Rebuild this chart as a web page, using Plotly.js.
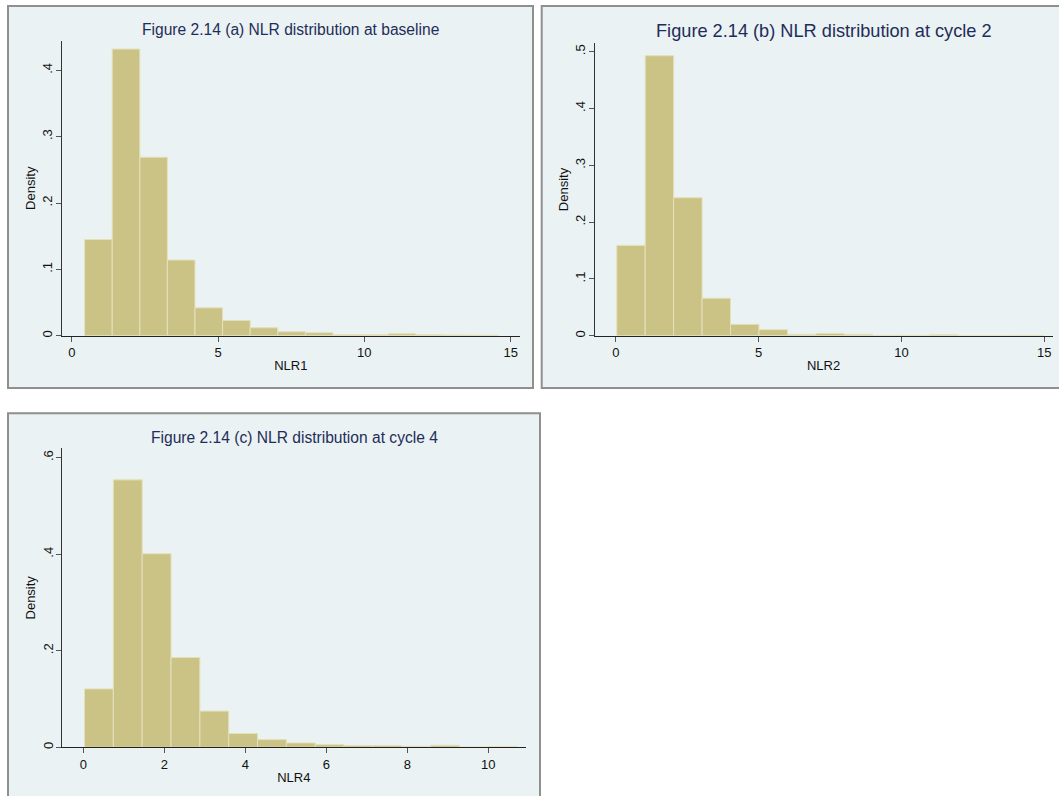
<!DOCTYPE html>
<html>
<head>
<meta charset="utf-8">
<script src="https://cdn.plot.ly/plotly-3.0.1.min.js"></script>
<style>
  html, body { margin: 0; padding: 0; background: #ffffff; }
  #chart { width: 1059px; height: 796px; }
</style>
</head>
<body>
<div id="chart"></div>
<script>
// ---------------- data ----------------
const titleA = "Figure 2.14 (a) NLR distribution at baseline";
const titleB = "Figure 2.14 (b) NLR distribution at cycle 2";
const titleC = "Figure 2.14 (c) NLR distribution at cycle 4";

// histogram bins: first bin start and bin width, plus density per bin
const nlr1BinStart = 0.44;
const nlr1BinWidth = 0.943;
const nlr1Density = [0.145, 0.432, 0.269, 0.114, 0.042, 0.023, 0.012, 0.006, 0.0045, 0.0015, 0.0015, 0.003, 0.0015, 0.001, 0.0007];

const nlr2BinStart = 0.03;
const nlr2BinWidth = 0.996;
const nlr2Density = [0.159, 0.493, 0.243, 0.066, 0.020, 0.0106, 0.0023, 0.004, 0.0023, 0.0005, 0.0005, 0.0015, 0, 0, 0.0005];

const nlr4BinStart = 0.03;
const nlr4BinWidth = 0.712;
const nlr4Density = [0.121, 0.554, 0.401, 0.186, 0.075, 0.0285, 0.016, 0.009, 0.0056, 0.0035, 0.0035, 0.002, 0.0042, 0.0005, 0.0014];

const xTicksAB = [0, 5, 10, 15];
const xTicksC = [0, 2, 4, 6, 8, 10];
const yTicksA = [0, 0.1, 0.2, 0.3, 0.4];
const yTicksB = [0, 0.1, 0.2, 0.3, 0.4, 0.5];
const yTicksC = [0, 0.2, 0.4, 0.6];
const yLabelsA = ["0", ".1", ".2", ".3", ".4"];
const yLabelsB = ["0", ".1", ".2", ".3", ".4", ".5"];
const yLabelsC = ["0", ".2", ".4", ".6"];

// ---------------- styling / layout ----------------
const W = 1059, H = 796;
const FONT = "Liberation Sans, Arial, Helvetica, sans-serif";
const barFill = "#cbc386";
const barEdge = "#e4e0bc";
const panelFill = "#eaf2f3";
const panelBorder = "#8f8f8f";
const gridCol = "#eaf2f3";
const titleCol = "#1f2d5a";
const TICK_SIZE = 13;

function px2x(a, b) { return [a / W, b / W]; }
function px2y(top, bottom) { return [1 - bottom / H, 1 - top / H]; }

function binCenters(start, width, n) {
  const c = [];
  for (let i = 0; i < n; i++) c.push(start + width * (i + 0.5));
  return c;
}

function barTrace(start, width, dens, xa, ya) {
  return {
    type: "bar",
    x: binCenters(start, width, dens.length),
    y: dens,
    width: width,
    xaxis: xa, yaxis: ya,
    marker: { color: barFill, line: { color: barEdge, width: 1 } },
    showlegend: false,
    hoverinfo: "x+y"
  };
}

function xAxis(domain, range, ticks, title, anchor) {
  return {
    domain: domain, range: range, anchor: anchor,
    tickmode: "array", tickvals: ticks, ticktext: ticks.map(String),
    ticks: "outside", ticklen: 5, tickwidth: 1, tickcolor: "#555",
    showline: true, linecolor: "#222", linewidth: 1,
    showgrid: false, zeroline: false,
    tickfont: { family: FONT, size: TICK_SIZE, color: "#111" },
    title: { text: title, font: { family: FONT, size: TICK_SIZE, color: "#111" }, standoff: 1 },
    fixedrange: true
  };
}

function yAxis(domain, range, ticks, labels, anchor) {
  return {
    domain: domain, range: range, anchor: anchor,
    tickmode: "array", tickvals: ticks, ticktext: labels, tickangle: -90,
    ticks: "outside", ticklen: 5, tickwidth: 1, tickcolor: "#555",
    ticklabelstandoff: -2,
    showline: true, linecolor: "#333", linewidth: 1,
    showgrid: true, gridcolor: gridCol, gridwidth: 1, zeroline: false,
    tickfont: { family: FONT, size: TICK_SIZE, color: "#111" },
    title: { text: "Density", font: { family: FONT, size: TICK_SIZE, color: "#111" }, standoff: 1 },
    fixedrange: true
  };
}

const data = [
  barTrace(nlr1BinStart, nlr1BinWidth, nlr1Density, "x", "y"),
  barTrace(nlr2BinStart, nlr2BinWidth, nlr2Density, "x2", "y2"),
  barTrace(nlr4BinStart, nlr4BinWidth, nlr4Density, "x3", "y3")
];

function panel(x0, y0, x1, y1) {
  return {
    type: "rect", xref: "paper", yref: "paper", layer: "below",
    x0: x0 / W, x1: x1 / W, y0: 1 - y1 / H, y1: 1 - y0 / H,
    fillcolor: panelFill, line: { color: panelBorder, width: 2 }
  };
}

function titleAnn(text, cx, cy, size) {
  return {
    text: text, xref: "paper", yref: "paper", x: cx / W, y: 1 - cy / H,
    xanchor: "center", yanchor: "middle", showarrow: false,
    font: { family: FONT, size: size, color: titleCol }
  };
}

const layout = {
  width: W, height: H,
  margin: { l: 0, r: 0, t: 0, b: 0 },
  paper_bgcolor: "#ffffff",
  plot_bgcolor: "#ffffff",
  bargap: 0,
  showlegend: false,
  xaxis: xAxis(px2x(61.5, 520), [-0.35, 15.32], xTicksAB, "NLR1", "y"),
  yaxis: yAxis(px2y(40.7, 335.7), [0, 0.4446], yTicksA, yLabelsA, "x"),
  xaxis2: xAxis(px2x(594.5, 1052.7), [-0.749, 15.294], xTicksAB, "NLR2", "y2"),
  yaxis2: yAxis(px2y(43.3, 335.7), [0, 0.5148], yTicksB, yLabelsB, "x2"),
  xaxis3: xAxis(px2x(61.7, 526), [-0.533, 10.93], xTicksC, "NLR4", "y3"),
  yaxis3: yAxis(px2y(448.3, 747.3), [0, 0.6193], yTicksC, yLabelsC, "x3"),
  shapes: [
    panel(8, 6, 533, 388),
    panel(541.7, 6, 1064, 388),
    panel(8, 413.3, 540, 802)
  ],
  annotations: [
    titleAnn(titleA, 290.7, 30, 15.6),
    titleAnn(titleB, 824, 31, 18.2),
    titleAnn(titleC, 294, 437, 15.6)
  ]
};

Plotly.newPlot("chart", data, layout, { displayModeBar: false, staticPlot: true });
</script>
</body>
</html>
